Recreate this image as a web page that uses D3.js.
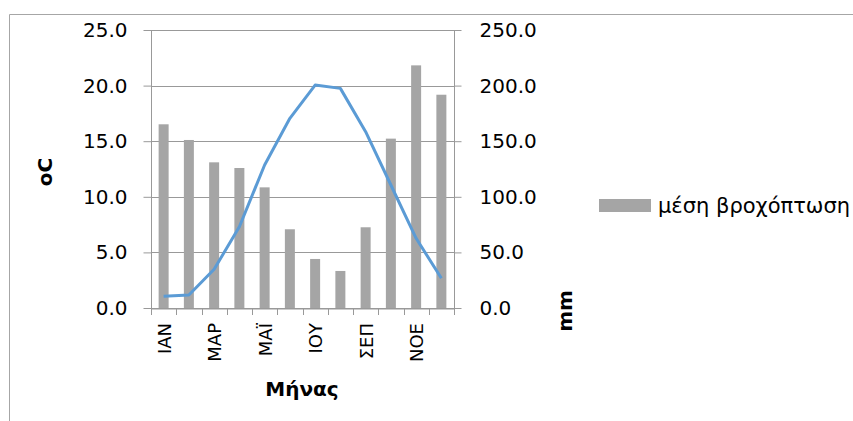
<!DOCTYPE html>
<html>
<head>
<meta charset="utf-8">
<script src="https://cdn.jsdelivr.net/npm/d3@7"></script>
<style>
  html, body { margin: 0; padding: 0; background: #fff; }
  svg { display: block; }
  text { font-family: "DejaVu Sans", sans-serif; fill: #000; }
</style>
</head>
<body>
<svg id="chart" width="853" height="421"></svg>
<script>
// Monthly climate data
const months = ["ΙΑΝ", "ΦΕΒ", "ΜΑΡ", "ΑΠΡ", "ΜΑΪ", "ΙΟΥ", "ΙΟΥ", "ΑΥΓ", "ΣΕΠ", "ΟΚΤ", "ΝΟΕ", "ΔΕΚ"];
const rainfall = [165.2, 151.1, 131.0, 125.9, 108.5, 70.8, 44.1, 33.3, 72.6, 152.3, 218.2, 191.8]; // mm
const temperature = [1.05, 1.17, 3.48, 7.31, 12.86, 17.06, 20.05, 19.75, 15.86, 11.06, 6.27, 2.67]; // oC
const tempTicks = [0, 5, 10, 15, 20, 25];
const rainTicks = [0, 50, 100, 150, 200, 250];
const rainLabel = "μέση βροχόπτωση";

const svg = d3.select("#chart");
const plot = { left: 151, right: 454, top: 30, bottom: 308 };

// Outer chart frame
svg.append("path")
  .attr("d", "M9.5,421 V14.5 H853")
  .attr("fill", "none").attr("stroke", "#a6a6a6").attr("stroke-width", 1);

const x = d3.scaleBand().domain(d3.range(months.length))
  .range([plot.left, plot.right]).paddingInner(0).paddingOuter(0);
const yT = d3.scaleLinear().domain([0, 25]).range([plot.bottom, plot.top]);
const yR = d3.scaleLinear().domain([0, 250]).range([plot.bottom, plot.top]);

// Horizontal gridlines
svg.append("g").selectAll("line").data(tempTicks).join("line")
  .attr("x1", plot.left).attr("x2", plot.right)
  .attr("y1", d => Math.round(yT(d)) + 0.5).attr("y2", d => Math.round(yT(d)) + 0.5)
  .attr("stroke", "#999").attr("stroke-width", 1);

// Bars (right axis)
const barW = 10;
svg.append("g").selectAll("rect").data(rainfall).join("rect")
  .attr("x", (d, i) => x(i) + x.bandwidth() / 2 - barW / 2)
  .attr("width", barW)
  .attr("y", d => yR(d))
  .attr("height", d => plot.bottom - yR(d))
  .attr("fill", "#a5a5a5");

// Temperature line (left axis)
svg.append("path")
  .datum(temperature)
  .attr("d", d3.line().x((d, i) => x(i) + x.bandwidth() / 2).y(d => yT(d)))
  .attr("fill", "none").attr("stroke", "#5b9bd5").attr("stroke-width", 3)
  .attr("stroke-linejoin", "round");

// Axes
const axisColor = "#999";
const leftAxis = svg.append("g").attr("transform", `translate(${plot.left + 0.5},0)`)
  .call(d3.axisLeft(yT).tickValues(tempTicks).tickFormat(d3.format(".1f")).tickSize(8).tickPadding(16));
const rightAxis = svg.append("g").attr("transform", `translate(${plot.right + 0.5},0)`)
  .call(d3.axisRight(yR).tickValues(rainTicks).tickFormat(d3.format(".1f")).tickSize(7).tickPadding(18));
const bottomAxis = svg.append("g").attr("transform", `translate(0,${plot.bottom + 0.5})`)
  .call(d3.axisBottom(x).tickValues([]).tickSize(0));
// category boundary ticks
svg.append("g").selectAll("line").data(d3.range(months.length + 1)).join("line")
  .attr("x1", i => Math.round(plot.left + i * x.step()) + 0.5)
  .attr("x2", i => Math.round(plot.left + i * x.step()) + 0.5)
  .attr("y1", plot.bottom).attr("y2", plot.bottom + 7)
  .attr("stroke", axisColor);

[leftAxis, rightAxis, bottomAxis].forEach(g => {
  g.selectAll(".domain").attr("stroke", axisColor);
  g.selectAll(".tick line").attr("stroke", axisColor);
  g.selectAll("text").attr("font-size", 20).attr("font-family", "DejaVu Sans").attr("fill", "#000");
});
leftAxis.select(".domain").attr("d", `M0,${plot.top}V${plot.bottom}`);
rightAxis.select(".domain").attr("d", `M0,${plot.top}V${plot.bottom}`);

// Month labels (every other month), rotated
svg.append("g").selectAll("text")
  .data(months.map((m, i) => ({ m, i })).filter(d => d.i % 2 === 0))
  .join("text")
  .attr("transform", d => `translate(${x(d.i) + x.bandwidth() / 2 + 7},${plot.bottom + 15}) rotate(-90)`)
  .attr("text-anchor", "end")
  .attr("font-size", 18)
  .text(d => d.m);

// Axis titles
svg.append("text").attr("transform", "translate(52,172) rotate(-90)")
  .attr("text-anchor", "middle").attr("font-size", 20).attr("font-weight", "bold").text("oC");
svg.append("text").attr("transform", "translate(572,311) rotate(-90)")
  .attr("text-anchor", "middle").attr("font-size", 20).attr("font-weight", "bold").text("mm");
svg.append("text").attr("x", 302).attr("y", 396)
  .attr("text-anchor", "middle").attr("font-size", 20).attr("font-weight", "bold").text("Μήνας");

// Legend
const legend = svg.append("g").attr("transform", "translate(599,199)");
legend.append("rect").attr("width", 52).attr("height", 13).attr("fill", "#a5a5a5");
legend.append("text").attr("x", 59).attr("y", 14).attr("font-size", 21).text(rainLabel);
</script>
</body>
</html>
